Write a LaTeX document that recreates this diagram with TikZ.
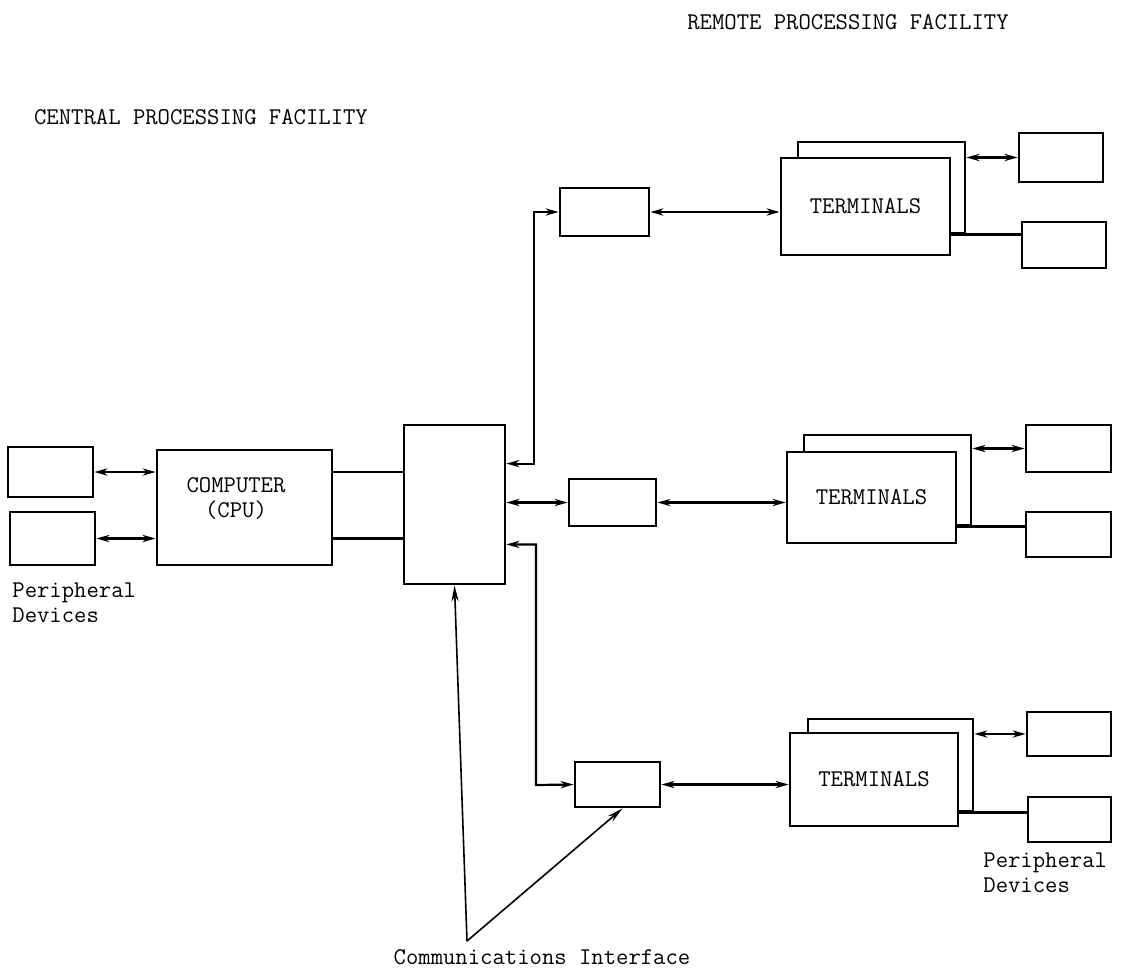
\documentclass[tikz,border=0pt]{standalone}
\usepackage{fontspec}
\usetikzlibrary{fit,calc,arrows.meta}
\begin{document}
\begin{tikzpicture}[x=0.5pt,y=-0.5pt,
  box/.style={draw,line width=1.4pt,fill=white,inner sep=0pt},
  conn/.style={line width=1.1pt},
  dbl/.style={conn,{Stealth[length=6.5pt,width=3.6pt]}-{Stealth[length=6.5pt,width=3.6pt]}},
  single/.style={line width=0.8pt,-{Stealth[length=8pt,width=3.6pt]}},
  lbl/.style={inner sep=0pt,font=\fontsize{12}{12.5}\selectfont\ttfamily}]
\useasboundingbox (0,0) rectangle (1125,971);
% titles
\node[lbl] (ctitle) at (201,117) {CENTRAL PROCESSING FACILITY};
\node[lbl] (rtitle) at (848,22) {REMOTE PROCESSING FACILITY};
% central facility
\node[box,fit={(8,447) (93,497)}] (p1) {};
\node[box,fit={(10,512) (95,565)}] (p2) {};
\node[box,fit={(157,450) (332,565)}] (cpu) {};
\node[lbl,align=center] (cputext) at (236,499) {COMPUTER\\(CPU)};
\node[box,fit={(404,425) (505,584)}] (comm) {};
\node[lbl,align=left,anchor=north west] (lperiph) at (12,582) {Peripheral\\Devices};
% modems
\node[box,fit={(560,188) (649,236)}] (b1) {};
\node[box,fit={(569,479) (656,526)}] (b2) {};
\node[box,fit={(575,762) (660,807)}] (b3) {};
% terminals 1
\node[box,fit={(798,142) (965,233)}] (t1back) {};
\node[box,fit={(781,158) (950,255)}] (t1) {};
\node[lbl] at (t1) {TERMINALS};
\node[box,fit={(1019,133) (1103,182)}] (p3) {};
\node[box,fit={(1022,222) (1106,268)}] (p4) {};
% terminals 2
\node[box,fit={(804,435) (971,525)}] (t2back) {};
\node[box,fit={(787,452) (956,543)}] (t2) {};
\node[lbl] at (t2) {TERMINALS};
\node[box,fit={(1026,425) (1111,472)}] (p5) {};
\node[box,fit={(1026,512) (1111,557)}] (p6) {};
% terminals 3
\node[box,fit={(808,719) (973,811)}] (t3back) {};
\node[box,fit={(790,733) (958,826)}] (t3) {};
\node[lbl] at (t3) {TERMINALS};
\node[box,fit={(1027,712) (1111,756)}] (p7) {};
\node[box,fit={(1028,797) (1111,842)}] (p8) {};
\node[lbl,align=left,anchor=north west] (rperiph) at (983,852) {Peripheral\\Devices};
% central connectors
\draw[dbl] (p1.east) -- (p1.east -| cpu.west);
\draw[dbl] (p2.east) -- (p2.east -| cpu.west);
\draw[conn] (cpu.east |- p1.east) -- (comm.west |- p1.east);
\draw[conn] (cpu.east |- p2.east) -- (comm.west |- p2.east);
\draw[dbl] ($(comm.north east)+(0,40)$) -| (534,212) -- (b1.west);
\draw[dbl] (comm.east |- b2.west) -- (b2.west);
\draw[dbl] ($(comm.south east)+(0,-41)$) -| (536,785) -- (b3.west);
% modem to terminals
\draw[dbl] (b1.east) -- (b1.east -| t1.west);
\draw[dbl] (b2.east) -- (b2.east -| t2.west);
\draw[dbl] (b3.east) -- (b3.east -| t3.west);
% terminals to peripherals
\draw[dbl] (p3.west -| t1back.east) -- (p3.west);
\draw[conn] (t1.east |- t1back.south) -- (p4.west |- t1back.south);
\draw[dbl] (p5.west -| t2back.east) -- (p5.west);
\draw[conn] (t2.east |- t2back.south) -- (p6.west |- t2back.south);
\draw[dbl] (p7.west -| t3back.east) -- (p7.west);
\draw[conn] (t3.east |- t3back.south) -- (p8.west |- t3back.south);
% communications interface
\coordinate (apex) at (467,941);
\draw[single] (apex) -- (comm.south);
\draw[single] (apex) -- ($(b3.south)+(5,0)$);
\node[lbl] (commlabel) at (542,957) {Communications Interface};
\end{tikzpicture}
\end{document}
